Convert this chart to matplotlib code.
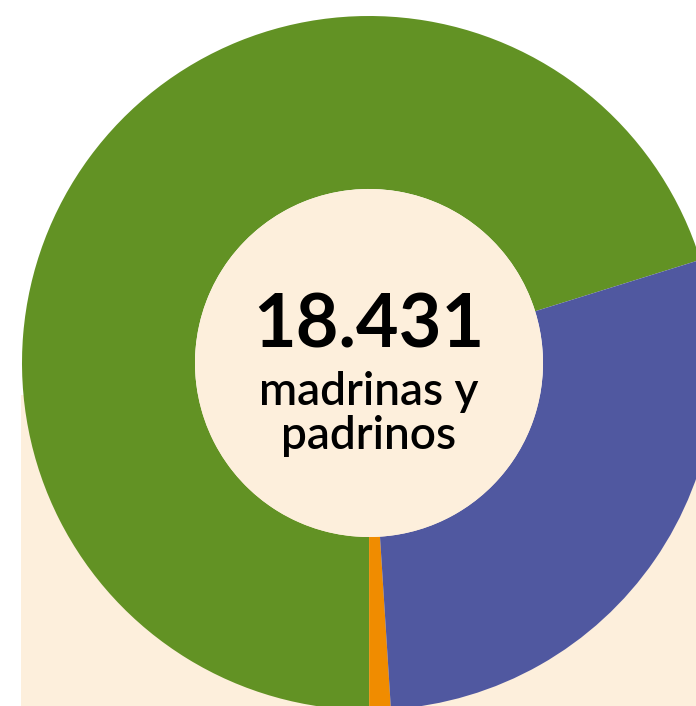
import matplotlib
matplotlib.use("Agg")
import matplotlib.pyplot as plt
from matplotlib.patches import Circle, Rectangle

# Data
categories = ["Grupo A", "Grupo B", "Grupo C"]
values = [12939, 184, 5308]
colors = ["#629224", "#f08c00", "#5058a0"]
total_label = "18.431"
subtitle_lines = ["madrinas y", "padrinos"]

W, H = 696, 706
cx, cy = 369, 363  # center in pixels (from top-left)
R_out, R_in = 347, 174
cream = "#fdefdc"

fig = plt.figure(figsize=(W / 100, H / 100), dpi=100)
fig.patch.set_facecolor("white")
ax = fig.add_axes([0, 0, 1, 1])

# cream background panel
ax.add_patch(Rectangle((21 - cx, -(H - cy)), W, (H - cy) - (395 - cy), facecolor=cream,
                       edgecolor="none", zorder=0))

ax.pie(values, colors=colors, startangle=17.3, counterclock=True, radius=R_out,
       wedgeprops=dict(width=R_out - R_in, edgecolor="none", linewidth=0),
       center=(0, 0), frame=True)
ax.set_xlim(-cx, W - cx)
ax.set_ylim(-(H - cy), cy)
ax.set_aspect("auto")
ax.axis("off")

ax.add_patch(Circle((0, 0), R_in, facecolor=cream, edgecolor="none", zorder=3))

ax.text(0, cy - 347, total_label, ha="center", va="baseline", fontsize=53,
        fontweight="bold", family="Lato", color="black", zorder=4)
ax.text(0, cy - 405, subtitle_lines[0], ha="center", va="baseline", fontsize=33,
        fontweight="semibold", family="Lato", color="black", zorder=4)
ax.text(0, cy - 449, subtitle_lines[1], ha="center", va="baseline", fontsize=33,
        fontweight="semibold", family="Lato", color="black", zorder=4)

fig.savefig("out.png", dpi=100, facecolor=fig.get_facecolor())
